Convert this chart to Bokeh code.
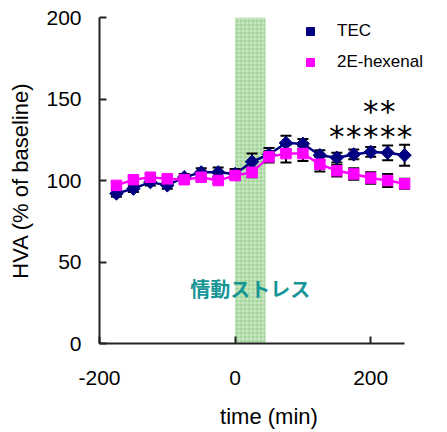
import numpy as np
from bokeh.plotting import figure
from bokeh.models import (ColumnDataSource, Whisker, TeeHead, BoxAnnotation, Legend,
                          LegendItem, FixedTicker, Range1d)
from bokeh.core.properties import value
from bokeh.embed import file_html
from bokeh.resources import INLINE

# ---- data ----
times = [-175, -150, -125, -100, -75, -50, -25, 0, 25, 50, 75, 100, 125, 150, 175, 200, 225, 250]
tec = [92, 95, 99, 97, 102, 105, 105, 104, 111.5, 116, 123, 122.5, 115.5, 114, 116, 117.5, 117, 115.5]
tec_err = [2, 2, 2, 2, 2, 2.5, 3, 3, 5, 4, 4.5, 3, 3, 3, 3, 3, 4.5, 6.5]
hexenal = [97, 100.5, 102, 101, 100.5, 102, 100, 103, 105, 114.5, 116.5, 116.5, 110, 106, 104, 101.5, 100, 98]
hexenal_err = [2, 2, 2, 2, 2, 2, 2, 2, 3, 3.5, 5.5, 4.5, 4.5, 3.5, 3.5, 3.5, 4, 3]
stress_period = [0, 45]
stress_label = "情動ストレス"
sig_single_times = [150, 175, 200, 225, 250]
sig_double_times = [200, 225]
x_ticks = [-200, 0, 200]
x_tick_labels = ["-200", "0", "200"]
y_ticks = [0, 50, 100, 150, 200]
x_axis_span = [-200, 250]

FONT = "Liberation Sans"

p = figure(frame_width=339, frame_height=326, output_backend="svg", toolbar_location=None,
           x_range=Range1d(-200, 300), y_range=Range1d(0, 200),
           min_border_left=99, min_border_top=17, min_border_right=0, min_border_bottom=80)
p.outline_line_color = None
p.xgrid.visible = False
p.ygrid.visible = False
p.background_fill_color = "white"

# stress band
band = BoxAnnotation(left=stress_period[0], right=stress_period[1],
                     fill_color="#a2d49b", fill_alpha=1.0,
                     hatch_pattern="+", hatch_color="#d9eed5", hatch_alpha=0.8,
                     hatch_scale=4, hatch_weight=1, line_color=None, level="underlay")
p.add_layout(band)

p.text(x=[sum(stress_period) / 2], y=[34], text=[stress_label],
       text_font=value("Noto Sans CJK JP"), text_font_size="20px", text_font_style="bold",
       text_color="#159595", text_align="center", text_baseline="middle")

src_t = ColumnDataSource(dict(t=times, y=tec,
                              up=[a + b for a, b in zip(tec, tec_err)],
                              lo=[a - b for a, b in zip(tec, tec_err)]))
src_h = ColumnDataSource(dict(t=times, y=hexenal,
                              up=[a + b for a, b in zip(hexenal, hexenal_err)],
                              lo=[a - b for a, b in zip(hexenal, hexenal_err)]))

for src in (src_t, src_h):
    w = Whisker(source=src, base="t", upper="up", lower="lo", dimension="height",
                line_color="black", line_width=2,
                upper_head=TeeHead(size=11, line_color="black", line_width=2),
                lower_head=TeeHead(size=11, line_color="black", line_width=2))
    p.add_layout(w)

p.line("t", "y", source=src_t, line_color="#000080", line_width=2.5)
r_tec = p.scatter("t", "y", source=src_t, marker="square", angle=np.pi / 4, size=9.5,
                  fill_color="#000080", line_color="#000080")
p.line("t", "y", source=src_h, line_color="#FF00FF", line_width=2.5)
r_hex = p.scatter("t", "y", source=src_h, marker="square", size=10.5,
                  fill_color="#FF00FF", line_color="#FF00FF")

# significance stars
p.text(x=sig_single_times, y=[127.5] * len(sig_single_times), text=["*"] * len(sig_single_times),
       text_font=value("DejaVu Sans"), text_font_size="31px", text_color="black",
       text_align="center", text_baseline="middle")
p.text(x=sig_double_times, y=[142.5] * len(sig_double_times), text=["*"] * len(sig_double_times),
       text_font=value("DejaVu Sans"), text_font_size="31px", text_color="black",
       text_align="center", text_baseline="middle")

legend = Legend(items=[LegendItem(label="TEC", renderers=[r_tec]),
                       LegendItem(label="2E-hexenal", renderers=[r_hex])],
                location=(201, 271), orientation="vertical",
                padding=0, margin=0, spacing=11, glyph_width=20, glyph_height=20,
                label_height=20, label_standoff=17,
                label_text_font=FONT, label_text_font_size="17px",
                label_text_color="black", label_text_baseline="middle",
                border_line_color=None, background_fill_alpha=0)
p.add_layout(legend)

for ax in (p.xaxis[0], p.yaxis[0]):
    ax.axis_line_color = "#222222"
    ax.axis_line_width = 2
    ax.major_tick_line_color = "#222222"
    ax.major_tick_line_width = 2
    ax.major_tick_in = 7
    ax.major_tick_out = 0
    ax.minor_tick_line_color = None
    ax.major_label_text_font = FONT
    ax.major_label_text_font_size = "21px"
    ax.major_label_text_color = "black"
    ax.axis_label_text_font = FONT
    ax.axis_label_text_font_size = "22px"
    ax.axis_label_text_font_style = "normal"
    ax.axis_label_text_color = "black"

p.xaxis[0].ticker = FixedTicker(ticks=x_ticks)
p.xaxis[0].major_label_overrides = {t: s for t, s in zip(x_ticks, x_tick_labels)}
p.xaxis[0].bounds = (x_axis_span[0], x_axis_span[1])
p.yaxis[0].ticker = FixedTicker(ticks=y_ticks)
p.xaxis[0].axis_label = "time (min)"
p.yaxis[0].axis_label = "HVA (% of baseline)"
p.xaxis[0].major_label_standoff = 27
p.yaxis[0].major_label_standoff = 18
p.xaxis[0].axis_label_standoff = 16
p.yaxis[0].axis_label_standoff = 10

open("out.html", "w").write(file_html(p, INLINE))
